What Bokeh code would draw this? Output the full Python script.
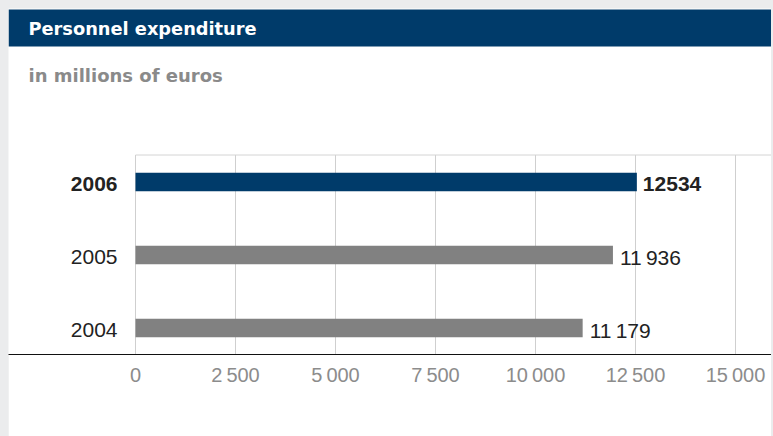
from bokeh.plotting import figure
from bokeh.models import BoxAnnotation, FixedTicker, Range1d
from bokeh.core.properties import value
from bokeh.embed import file_html
from bokeh.resources import INLINE

# ---- data ----
years = ["2004", "2005", "2006"]
ypos = [0, 1, 2]
values = [11179, 11936, 12534]
value_labels = ["11\u2009179", "11\u2009936", "12534"]
ticks = [0, 2500, 5000, 7500, 10000, 12500, 15000]
tick_labels = ["0", "2\u2009500", "5\u2009000", "7\u2009500", "10\u2009000", "12\u2009500", "15\u2009000"]
title_text = "Personnel expenditure"
subtitle_text = "in millions of euros"

NAVY = "#003b6a"
GRAY = "#818181"

# ---- geometry (px -> data) ----
W, H = 763, 428
frame_top_px, frame_bottom_px = 0, 346          # relative to figure top
x0_px = 127                                     # x=0 position from figure left
ux = 25.0                                       # data units per px (x)
row_px = 73.0                                   # px per category
y0_px = 319.5                                   # centre of first row from figure top

def ydata(px):
    return (y0_px - px) / row_px

x_start = -x0_px * ux
x_end = (W - x0_px) * ux
y_start = ydata(frame_bottom_px)
y_end = ydata(frame_top_px)
plot_top = ydata(146.5)

p = figure(width=W, height=H, output_backend="svg", toolbar_location=None,
           x_range=Range1d(x_start, x_end), y_range=Range1d(y_start, y_end),
           y_axis_location=None, min_border_left=0, min_border_right=0,
           min_border_top=0, min_border_bottom=H - frame_bottom_px)
p.outline_line_color = None
p.xgrid.visible = False
p.ygrid.visible = False
p.background_fill_color = "white"
p.border_fill_color = "white"

# header bar
p.add_layout(BoxAnnotation(bottom=ydata(38), top=ydata(1), fill_color=NAVY,
                           fill_alpha=1, line_color=None, level="underlay"))
p.text(x=[x_start + 20 * ux], y=[ydata(19.5)], text=[title_text],
       text_font=value("DejaVu Sans"), text_font_style="bold",
       text_font_size="17.8px", text_color="white",
       text_baseline="middle", text_align="left")
p.text(x=[x_start + 20 * ux], y=[ydata(66.5)], text=[subtitle_text],
       text_font=value("DejaVu Sans"), text_font_style="bold",
       text_font_size="18px", text_color="#8a8a8a",
       text_baseline="middle", text_align="left")

# grid lines and top border of the plot area
p.segment(x0=ticks, x1=ticks, y0=[y_start] * len(ticks), y1=[plot_top] * len(ticks),
          line_color="#cfcfcf", line_width=1)
p.segment(x0=[0], x1=[x_end], y0=[plot_top], y1=[plot_top],
          line_color="#d4d4d4", line_width=1)

# bars
colors = [GRAY, GRAY, NAVY]
p.hbar(y=ypos, left=0, right=values, height=0.253, fill_color=colors, line_color=None)

# category labels
p.text(x=[-450] * 2, y=ypos[:2], text=years[:2], text_font=value("Liberation Sans"),
       text_font_size="21px", text_color="#222222", text_align="right",
       text_baseline="middle", y_offset=2)
p.text(x=[-450], y=ypos[2:], text=years[2:], text_font=value("Liberation Sans"),
       text_font_style="bold", text_font_size="21px", text_color="#222222",
       text_align="right", text_baseline="middle", y_offset=2)

# value labels
p.text(x=values[:2], y=ypos[:2], text=value_labels[:2], text_font=value("Liberation Sans"),
       text_font_size="21px", text_color="#222222", text_align="left",
       text_baseline="middle", x_offset=7, y_offset=2)
p.text(x=values[2:], y=ypos[2:], text=value_labels[2:], text_font=value("Liberation Sans"),
       text_font_style="bold", text_font_size="21px", text_color="#222222",
       text_align="left", text_baseline="middle", x_offset=6, y_offset=2)

# x axis
ax = p.xaxis[0]
ax.ticker = FixedTicker(ticks=ticks)
ax.major_label_overrides = {t: l for t, l in zip(ticks, tick_labels)}
ax.axis_line_color = "#111111"
ax.axis_line_width = 1
ax.major_tick_line_color = None
ax.minor_tick_line_color = None
ax.major_label_text_font = "Liberation Sans"
ax.major_label_text_font_size = "20px"
ax.major_label_text_color = "#8c8c8c"
ax.major_label_standoff = 3

html = file_html(p, INLINE)
html = html.replace("</head>",
                    "<style>html, body{background:#ebeced;} body{padding:8px 0 0 8px !important;}</style></head>", 1)
open("out.html", "w").write(html)
